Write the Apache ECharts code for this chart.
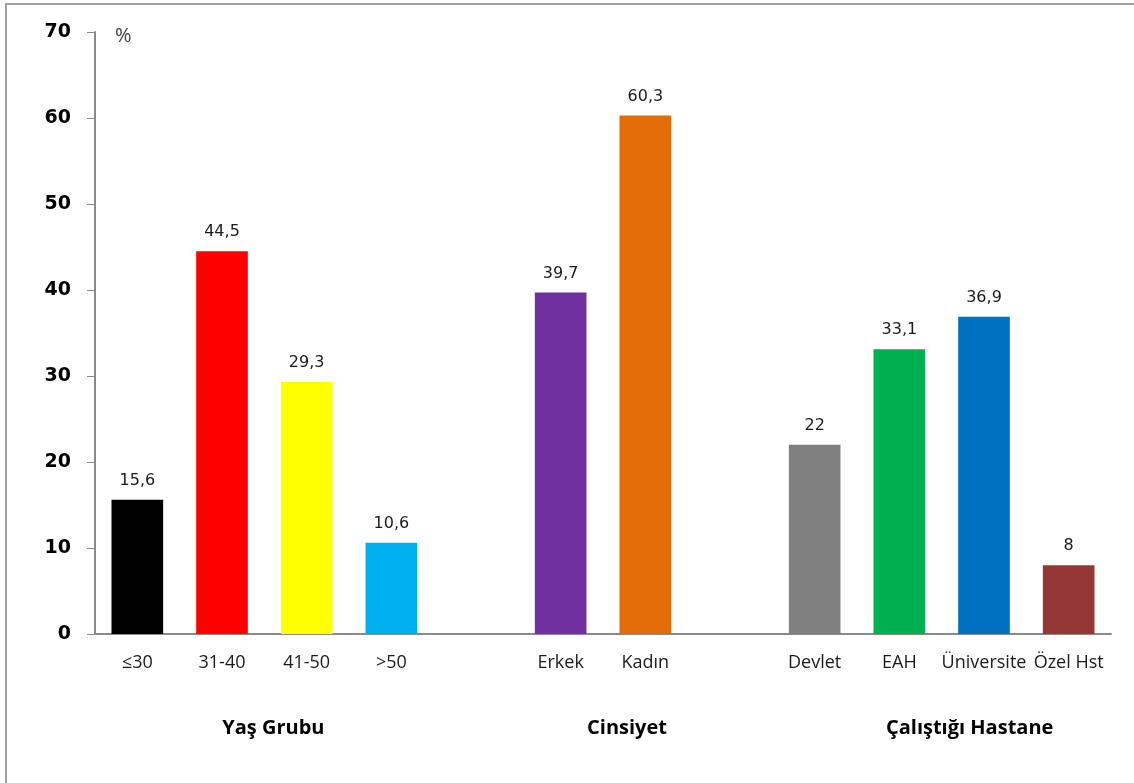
<!DOCTYPE html>
<html><head><meta charset="utf-8">
<script src="https://cdn.jsdelivr.net/npm/echarts@6/dist/echarts.min.js"></script>
<style>html,body{margin:0;padding:0;background:#fff}#c{width:1134px;height:783px}</style>
</head><body><div id="c"></div>
<script>
const categories = ['≤30','31-40','41-50','>50','','Erkek','Kadın','','Devlet','EAH','Üniversite','Özel Hst'];
const values = [15.6,44.5,29.3,10.6,null,39.7,60.3,null,22,33.1,36.9,8];
const barColors = ['#000000','#FF0000','#FFFF00','#00B0F0',null,'#7030A0','#E36C09',null,'#808080','#00B050','#0070C0','#953735'];
const groupNames = ['Yaş Grubu','Cinsiyet','Çalıştığı Hastane'];
const groupFrom = [0,5,8];
const groupTo = [3,6,11];
const yTicks = {min:0, max:70, interval:10};
const unitLabel = '%';

// layout-only nudges for group titles (px)
const groupShift = [9,24,28];

const chart = echarts.init(document.getElementById('c'));
const data = values.map((v,i)=> v==null ? null : {value:v, itemStyle:{color:barColors[i]}});
chart.setOption({
  animation:false,
  backgroundColor:'#fff',
  grid:{left:95,right:23,top:32,bottom:149,containLabel:false},
  xAxis:{type:'category',data:categories,
    axisLine:{lineStyle:{color:'#8a8a8a',width:2}},
    axisTick:{show:false},
    axisLabel:{interval:0,color:'#1a1a1a',fontFamily:'Open Sans',fontSize:18,margin:20}},
  yAxis:{type:'value',min:yTicks.min,max:yTicks.max,interval:yTicks.interval,
    axisLine:{show:true,lineStyle:{color:'#8a8a8a',width:2}},
    axisTick:{show:true,inside:false,length:8,lineStyle:{color:'#8a8a8a',width:1}},
    splitLine:{show:false},
    axisLabel:{color:'#000',fontFamily:'DejaVu Sans',fontWeight:'bold',fontSize:19,margin:24}},
  series:[{type:'bar',data:data,barWidth:'61%',
    label:{show:true,position:'top',distance:11,color:'#1a1a1a',fontFamily:'DejaVu Sans',fontSize:16,
      formatter:p=>String(p.value).replace('.',',')}}]
});
const gfx = [
  {type:'rect',shape:{x:6,y:4,width:1200,height:900},style:{fill:'none',stroke:'#a0a0a0',lineWidth:2},silent:true},
  {type:'text',left:115,top:26,style:{text:unitLabel,fill:'#404040',font:'20px "Open Sans"'}}
];
groupNames.forEach((name,k)=>{
  const x1 = chart.convertToPixel({xAxisIndex:0}, categories[groupFrom[k]]);
  const x2 = chart.convertToPixel({xAxisIndex:0}, categories[groupTo[k]]);
  gfx.push({type:'text',x:(x1+x2)/2+groupShift[k],y:728,style:{text:name,fill:'#000',font:'bold 20px "Open Sans"',textAlign:'center',textVerticalAlign:'middle'}});
});
chart.setOption({graphic:gfx});
</script></body></html>
